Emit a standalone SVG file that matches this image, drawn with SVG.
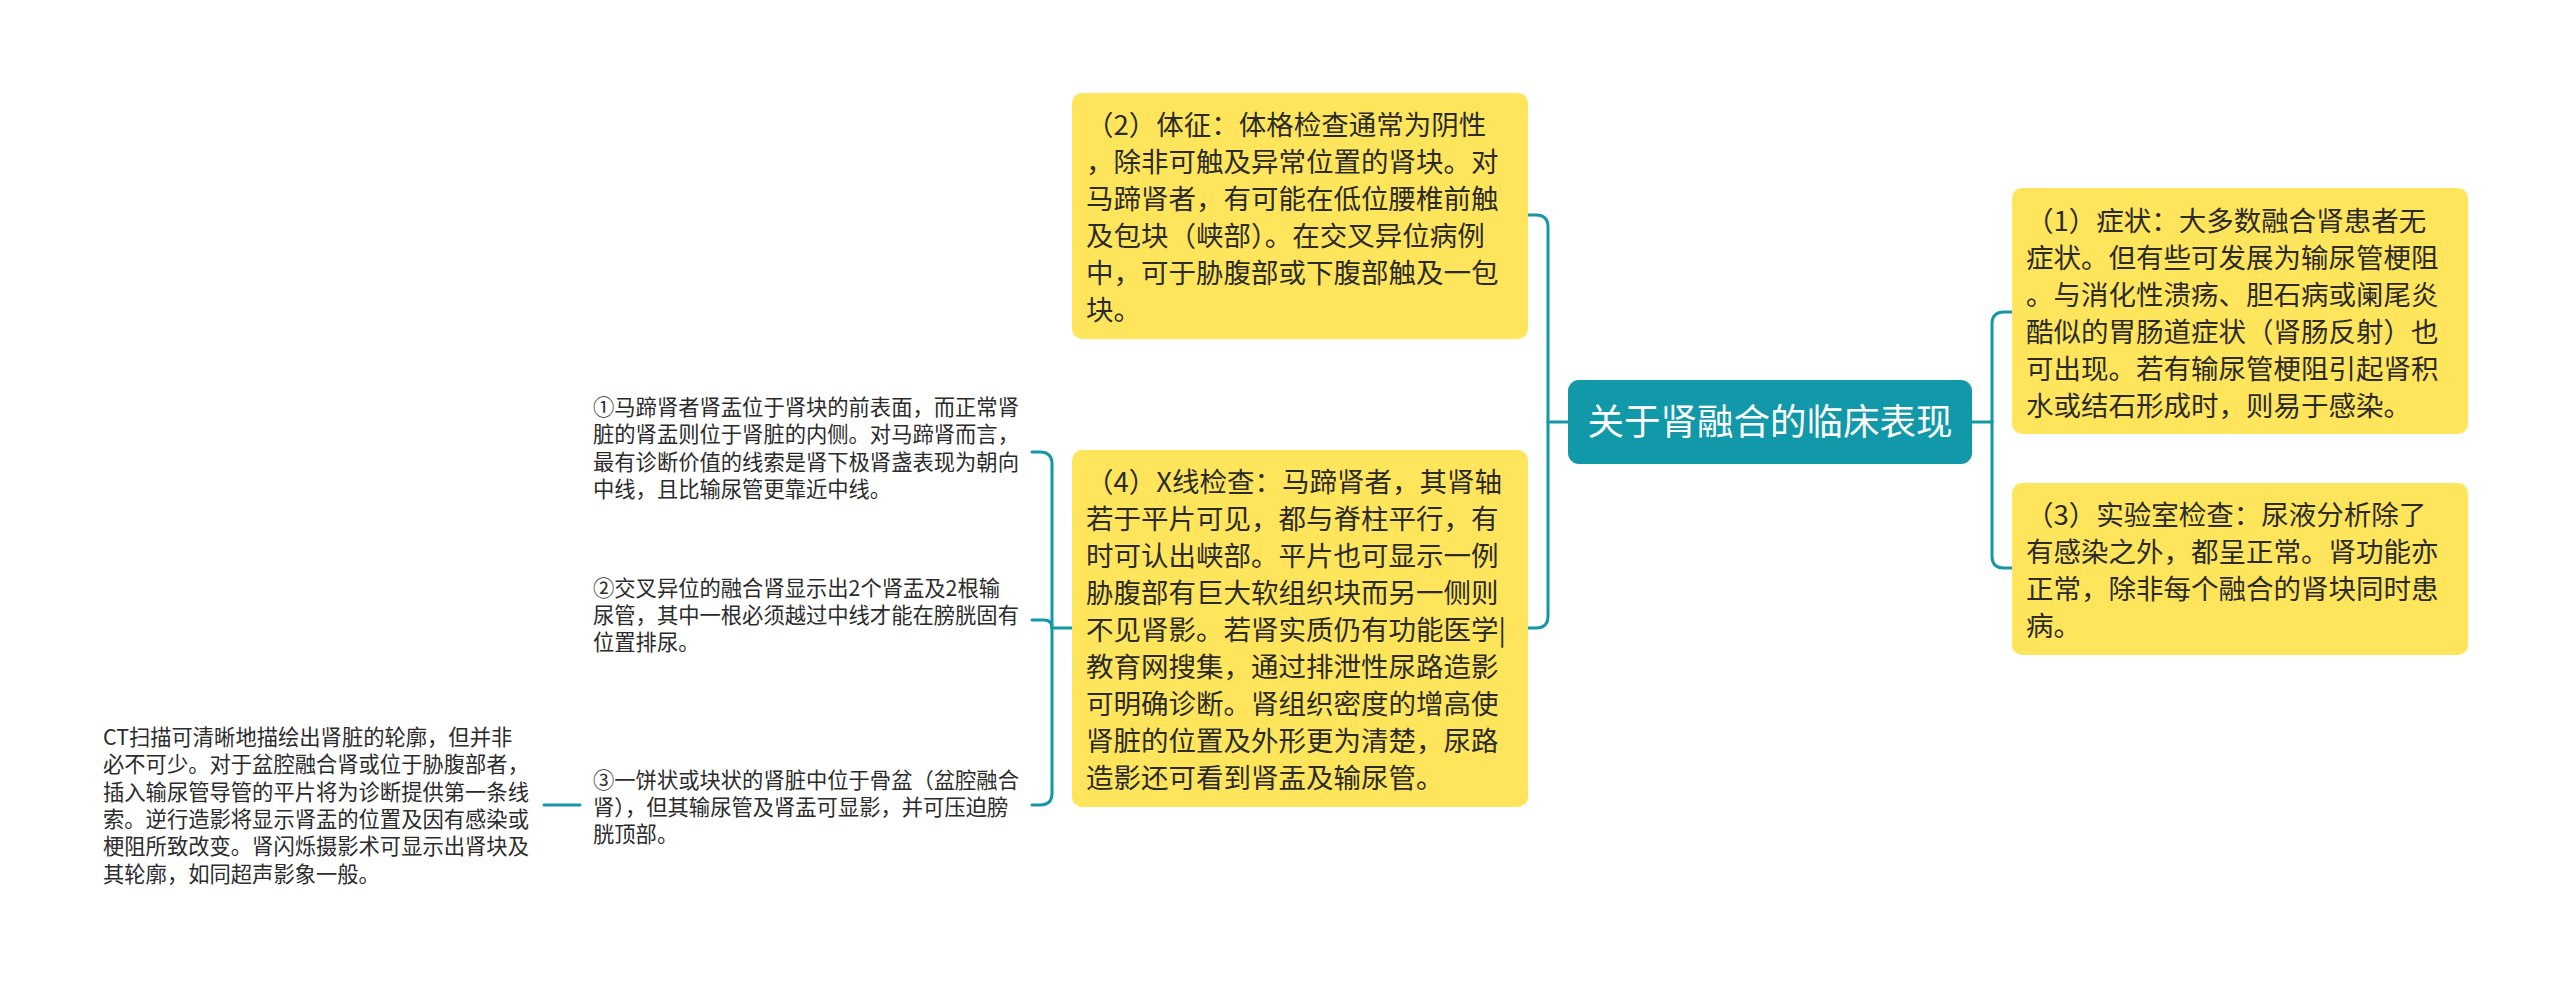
<svg xmlns="http://www.w3.org/2000/svg" width="2560" height="992" viewBox="0 0 2560 992">
<style>
.bg{fill:#ffffff}
.box{fill:#FFE55C}
.root{fill:#1199A9}
.t{font-family:"Noto Sans CJK SC","Noto Sans",sans-serif;fill:#2b2b2b}
.bt{font-size:27.5px}
.st{font-size:21.3px}
.rt{font-family:"Noto Sans CJK SC","Noto Sans",sans-serif;font-size:36.5px;fill:#ffffff}
.ln{fill:none;stroke:#1497A7;stroke-width:3;stroke-linecap:round}
</style>
<rect class="bg" x="0" y="0" width="2560" height="992"/>
<g id="connectors">
<path class="ln" d="M1568,422 H1548"/>
<path class="ln" d="M1548,422 V227 Q1548,215 1536,215 H1528"/>
<path class="ln" d="M1548,422 V616 Q1548,628 1536,628 H1528"/>
<path class="ln" d="M1972,422 H1992"/>
<path class="ln" d="M1992,422 V324 Q1992,312 2004,312 H2012"/>
<path class="ln" d="M1992,422 V556 Q1992,568 2004,568 H2012"/>
<path class="ln" d="M1072,628 H1052"/>
<path class="ln" d="M1052,628 V464 Q1052,452 1040,452 H1032"/>
<path class="ln" d="M1052,628 Q1052,620 1044,620 H1032"/>
<path class="ln" d="M1052,628 V793 Q1052,805 1040,805 H1032"/>
<path class="ln" d="M580,805 H544"/>
</g>
<g id="root">
<rect class="root" x="1568" y="380" width="404" height="84" rx="11"/>
<text class="rt" x="1770" y="435" text-anchor="middle">关于肾融合的临床表现</text>
</g>
<g id="n2">
<rect class="box" x="1072" y="93" width="456" height="246" rx="10"/>
<text class="t bt" x="1086" y="135">（2）体征：体格检查通常为阴性</text>
<text class="t bt" x="1086" y="172">，除非可触及异常位置的肾块。对</text>
<text class="t bt" x="1086" y="209">马蹄肾者，有可能在低位腰椎前触</text>
<text class="t bt" x="1086" y="246">及包块（峡部）。在交叉异位病例</text>
<text class="t bt" x="1086" y="283">中，可于胁腹部或下腹部触及一包</text>
<text class="t bt" x="1086" y="320">块。</text>
</g>
<g id="n4">
<rect class="box" x="1072" y="450" width="456" height="357" rx="10"/>
<text class="t bt" x="1086" y="492">（4）X线检查：马蹄肾者，其肾轴</text>
<text class="t bt" x="1086" y="529">若于平片可见，都与脊柱平行，有</text>
<text class="t bt" x="1086" y="566">时可认出峡部。平片也可显示一例</text>
<text class="t bt" x="1086" y="603">胁腹部有巨大软组织块而另一侧则</text>
<text class="t bt" x="1086" y="640">不见肾影。若肾实质仍有功能医学|</text>
<text class="t bt" x="1086" y="677">教育网搜集，通过排泄性尿路造影</text>
<text class="t bt" x="1086" y="714">可明确诊断。肾组织密度的增高使</text>
<text class="t bt" x="1086" y="751">肾脏的位置及外形更为清楚，尿路</text>
<text class="t bt" x="1086" y="788">造影还可看到肾盂及输尿管。</text>
</g>
<g id="n1">
<rect class="box" x="2012" y="188" width="456" height="246" rx="10"/>
<text class="t bt" x="2026" y="231">（1）症状：大多数融合肾患者无</text>
<text class="t bt" x="2026" y="268">症状。但有些可发展为输尿管梗阻</text>
<text class="t bt" x="2026" y="305">。与消化性溃疡、胆石病或阑尾炎</text>
<text class="t bt" x="2026" y="342">酷似的胃肠道症状（肾肠反射）也</text>
<text class="t bt" x="2026" y="379">可出现。若有输尿管梗阻引起肾积</text>
<text class="t bt" x="2026" y="416">水或结石形成时，则易于感染。</text>
</g>
<g id="n3">
<rect class="box" x="2012" y="483" width="456" height="172" rx="10"/>
<text class="t bt" x="2026" y="525">（3）实验室检查：尿液分析除了</text>
<text class="t bt" x="2026" y="562">有感染之外，都呈正常。肾功能亦</text>
<text class="t bt" x="2026" y="599">正常，除非每个融合的肾块同时患</text>
<text class="t bt" x="2026" y="636">病。</text>
</g>
<g id="s1">
<text class="t st" x="593" y="415">①马蹄肾者肾盂位于肾块的前表面，而正常肾</text>
<text class="t st" x="593" y="442">脏的肾盂则位于肾脏的内侧。对马蹄肾而言，</text>
<text class="t st" x="593" y="470">最有诊断价值的线索是肾下极肾盏表现为朝向</text>
<text class="t st" x="593" y="497">中线，且比输尿管更靠近中线。</text>
</g>
<g id="s2">
<text class="t st" x="593" y="596">②交叉异位的融合肾显示出2个肾盂及2根输</text>
<text class="t st" x="593" y="623">尿管，其中一根必须越过中线才能在膀胱固有</text>
<text class="t st" x="593" y="650">位置排尿。</text>
</g>
<g id="s3">
<text class="t st" x="593" y="788">③一饼状或块状的肾脏中位于骨盆（盆腔融合</text>
<text class="t st" x="593" y="815">肾），但其输尿管及肾盂可显影，并可压迫膀</text>
<text class="t st" x="593" y="842">胱顶部。</text>
</g>
<g id="ct">
<text class="t st" x="103" y="745">CT扫描可清晰地描绘出肾脏的轮廓，但并非</text>
<text class="t st" x="103" y="772">必不可少。对于盆腔融合肾或位于胁腹部者，</text>
<text class="t st" x="103" y="800">插入输尿管导管的平片将为诊断提供第一条线</text>
<text class="t st" x="103" y="827">索。逆行造影将显示肾盂的位置及因有感染或</text>
<text class="t st" x="103" y="854">梗阻所致改变。肾闪烁摄影术可显示出肾块及</text>
<text class="t st" x="103" y="882">其轮廓，如同超声影象一般。</text>
</g>
</svg>
